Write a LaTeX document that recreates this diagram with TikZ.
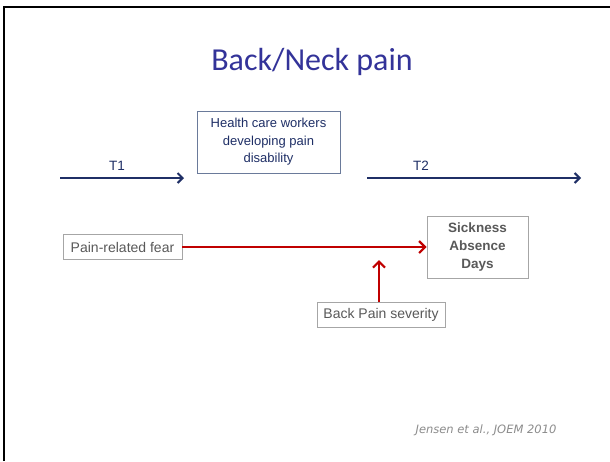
\documentclass[tikz,border=0pt]{standalone}
\usepackage{fontspec}
\setmainfont{Liberation Sans}
\newfontfamily\titlefont{Carlito}
\newfontfamily\citefont{DejaVu Sans}
\usetikzlibrary{arrows.meta}
\definecolor{navy}{HTML}{1F2F66}
\definecolor{titleblue}{HTML}{333399}
\definecolor{darkred}{HTML}{C00000}
\definecolor{boxgray}{HTML}{A6A6A6}
\definecolor{txtgray}{HTML}{595959}
\definecolor{citegray}{HTML}{8C8C8C}
\definecolor{bluebox}{HTML}{6A7A9A}
\tikzset{
  timearrow/.style={draw=navy, line width=2pt, -{Straight Barb[length=5pt,width=10pt,line width=2pt]}},
  redarrow/.style={draw=darkred, line width=2.4pt, -{Straight Barb[length=6pt,width=12pt,line width=2.2pt]}},
  graybox/.style={draw=boxgray, line width=0.8pt, fill=white, text=txtgray, font=\fontsize{14}{18}\selectfont, inner sep=0pt, align=center},
  labeltxt/.style={text=navy, font=\fontsize{13.5}{15}\selectfont, inner sep=0pt}
}
\begin{document}
\begin{tikzpicture}[x=1pt,y=-1pt]
\useasboundingbox (0,0) rectangle (610,461);
\fill[white] (0,0) rectangle (610,461);
% frame
\draw[line width=2pt, black] (4,461) -- (4,7) -- (610,7);
% title
\node[text=titleblue, font=\titlefont\fontsize{32}{36}\selectfont, inner sep=0pt] (title) at (312,62) {Back/Neck pain};
% central box
\node[draw=bluebox, line width=0.8pt, text=navy, font=\fontsize{13}{17.5}\selectfont, align=center, minimum width=143pt, minimum height=62pt, inner sep=0pt] (hcw) at (268.5,142) {Health care workers\\developing pain\\disability};
% time arrows
\coordinate (t1s) at (60,178);
\coordinate (t1e) at (184,178);
\coordinate (t2s) at (367,178);
\coordinate (t2e) at (581,178);
\draw[timearrow] (t1s) -- (t1e);
\draw[timearrow] (t2s) -- (t2e);
\node[labeltxt] (T1) at (117,166) {T1};
\node[labeltxt] (T2) at (421,166) {T2};
% boxes
\node[graybox, minimum width=119pt, minimum height=25pt] (fear) at (122.5,247) {Pain-related fear};
\node[graybox, minimum width=101pt, minimum height=62pt, font=\bfseries\fontsize{13.5}{18}\selectfont] (sick) at (477.5,247) {Sickness\\Absence\\Days};
\node[graybox, minimum width=128pt, minimum height=25pt] (sev) at (381,314.5) {Back Pain severity};
% red arrows
\coordinate (mod) at (379,260);
\draw[redarrow] (fear.east) -- (sick.west);
\draw[redarrow] (sev.north -| mod) -- (mod);
% citation
\node[text=citegray, font=\citefont\itshape\fontsize{11.5}{13}\selectfont, inner sep=0pt] (cite) at (486,430) {Jensen et al., JOEM 2010};
\end{tikzpicture}
\end{document}
